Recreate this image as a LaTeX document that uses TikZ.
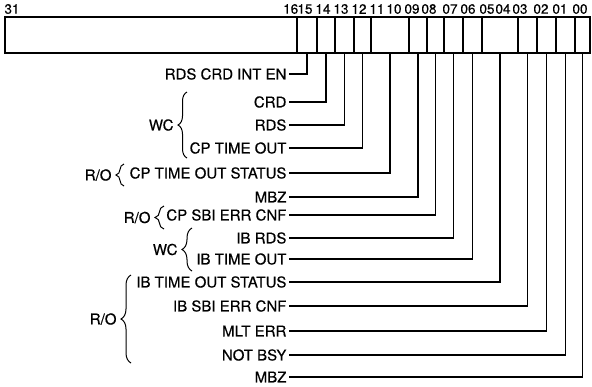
\documentclass[tikz,border=0pt]{standalone}
\usepackage{fontspec}
\setmainfont{TeX Gyre Heros}
\newfontfamily\lblfont[FakeBold=0.4]{TeX Gyre Heros}
\usetikzlibrary{decorations.pathreplacing}

\begin{document}
\begin{tikzpicture}[x=1pt, y=-1pt, line width=1.2pt,
    every node/.style={font=\lblfont\fontsize{15}{17}\selectfont},
    lbl/.style={anchor=east, inner sep=2pt},
    grp/.style={inner sep=1pt},
    bitno/.style={font=\lblfont\fontsize{13.5}{15}\selectfont, inner sep=0pt},
    curly/.style={decorate, decoration={brace, amplitude=#1}, line width=1pt}]
    \useasboundingbox (0,0) rectangle (592,386);

    % register: bits 31-16, then one field per used bit
    \draw (5,17) rectangle (297,53);
    \foreach \l/\r/\n in {297/317/b15, 317/335/b14, 335/354/b13, 354/371/b12,
        371/409/b11, 409/427/b09, 427/444/b08, 444/463/b07, 463/482/b06,
        482/518/b05, 518/537/b03, 537/556/b02, 556/575/b01, 575/590/b00} {
        \draw (\l,17) rectangle (\r,53);
        \coordinate (\n) at ({(\l+\r)/2},53);
    }

    % bit numbers
    \node[bitno] (n31) at (12,9) {31};
    \foreach \x/\t in {290.7/16, 305/15, 323/14, 341/13, 359/12, 377/11,
        394/10, 412/09, 429/08, 450/07, 468/06, 487/05, 503/04, 520/03,
        541/02, 560/01, 580/00}
        \node[bitno] (n\t) at (\x,9) {\t};

    % field names
    \node[lbl] (l15) at (289,74) {RDS CRD INT EN};
    \node[lbl] (l14) at (289,102) {CRD};
    \node[lbl] (l13) at (289,125) {RDS};
    \node[lbl] (l12) at (289,148) {CP TIME OUT};
    \node[lbl] (l11) at (289,173) {CP TIME OUT STATUS};
    \node[lbl] (l09) at (289,197) {MBZ};
    \node[lbl] (l08) at (289,215) {CP SBI ERR CNF};
    \node[lbl] (l07) at (289,238) {IB RDS};
    \node[lbl] (l06) at (289,259) {IB TIME OUT};
    \node[lbl] (l05) at (289,282) {IB TIME OUT STATUS};
    \node[lbl] (l03) at (289,306) {IB SBI ERR CNF};
    \node[lbl] (l02) at (289,331) {MLT ERR};
    \node[lbl] (l01) at (289,355) {NOT BSY};
    \node[lbl] (l00) at (289,377) {MBZ};

    % leads from the fields
    \foreach \b/\l in {b15/l15, b14/l14, b13/l13, b12/l12, b11/l11, b09/l09,
        b08/l08, b07/l07, b06/l06, b05/l05, b03/l03, b02/l02, b01/l01, b00/l00}
        \draw (\b) |- (\l.east);

    % access groups
    \draw[curly=9pt] (187,158) -- (187,92) node[grp, midway, left=12pt] (wc1) {WC};
    \draw[curly=8pt] (124,186) -- (124,164) node[grp, midway, left=11pt] (ro1) {R/O};
    \draw[curly=9pt] (164,229) -- (164,206) node[grp, midway, left=12pt] (ro2) {R/O};
    \draw[curly=10pt] (192,271) -- (192,228) node[grp, midway, left=13pt] (wc2) {WC};
    \draw[curly=10pt] (131,363) -- (131,275) node[grp, midway, left=13pt] (ro3) {R/O};
\end{tikzpicture}
\end{document}
